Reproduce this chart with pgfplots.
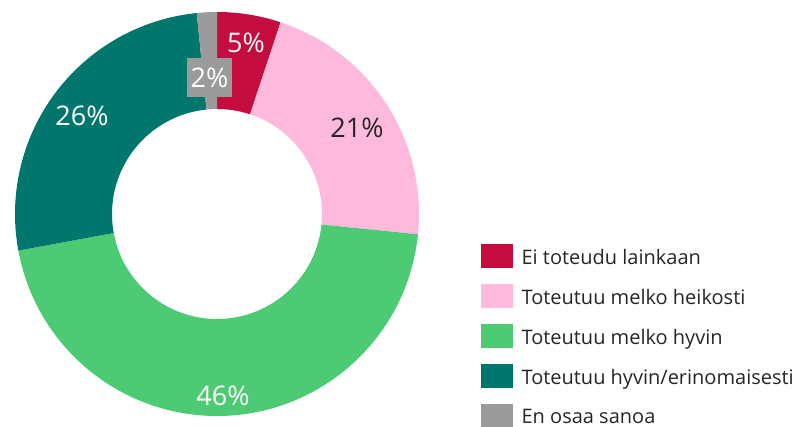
\documentclass[border=0pt]{standalone}
\usepackage{pgfplots}
\pgfplotsset{compat=1.18}
\usepackage{fontspec}
\setmainfont{Open Sans}
\definecolor{cA}{HTML}{C40C3E}
\definecolor{cB}{HTML}{FFB9DC}
\definecolor{cC}{HTML}{4CCB74}
\definecolor{cD}{HTML}{00766C}
\definecolor{cE}{HTML}{9B9B9B}
\definecolor{txt}{HTML}{262626}
\begin{document}
\begin{tikzpicture}
\begin{axis}[
  width=798pt, height=426pt, scale only axis,
  xmin=0, xmax=798, ymin=0, ymax=426,
  hide axis, clip=false,
  legend style={at={(axis cs:481,182)}, anchor=north west, draw=none, fill=none,
    inner sep=0pt, font=\fontsize{20}{22}\selectfont, text=txt,
    row sep=16.5pt, /tikz/every odd column/.append style={column sep=7pt}},
  legend cell align=left,
  legend image code/.code={\fill[#1] (0pt,-10pt) rectangle (31pt,13pt);},
]
\addlegendimage{cA}
\addlegendimage{cB}
\addlegendimage{cC}
\addlegendimage{cD}
\addlegendimage{cE}
\legend{Ei toteudu lainkaan, Toteutuu melko heikosti, Toteutuu melko hyvin, Toteutuu hyvin/erinomaisesti, En osaa sanoa}
\pgfplotsextra{
  \foreach \v/\col [remember=\e as \s (initially 0)] in {5.1/cA,21.5/cB,45.5/cC,26.3/cD,1.6/cE}{
    \pgfmathsetmacro\e{\s+\v}
    \pgfmathsetmacro\aA{90-3.6*\s}
    \pgfmathsetmacro\aB{90-3.6*\e}
    \fill[\col] (axis cs:217,212) ++(\aA:202pt) arc[start angle=\aA, end angle=\aB, radius=202pt]
      -- ++(\aB:-97pt) arc[start angle=\aB, end angle=\aA, radius=105pt] -- cycle;
  }
}
\node[font=\fontsize{27}{30}\selectfont, text=white] at (axis cs:246,383) {5\%};
\node[font=\fontsize{27}{30}\selectfont, text=txt] at (axis cs:357,298) {21\%};
\node[font=\fontsize{27}{30}\selectfont, text=white] at (axis cs:223,30) {46\%};
\node[font=\fontsize{27}{30}\selectfont, text=white] at (axis cs:82,310) {26\%};
\node[font=\fontsize{27}{30}\selectfont, text=white, fill=cE, minimum width=45pt, minimum height=39pt, inner sep=0pt] at (axis cs:209.5,348.5) {2\%};
\end{axis}
\pgfresetboundingbox
\useasboundingbox (current axis.south west) rectangle (current axis.north east);
\end{tikzpicture}
\end{document}
